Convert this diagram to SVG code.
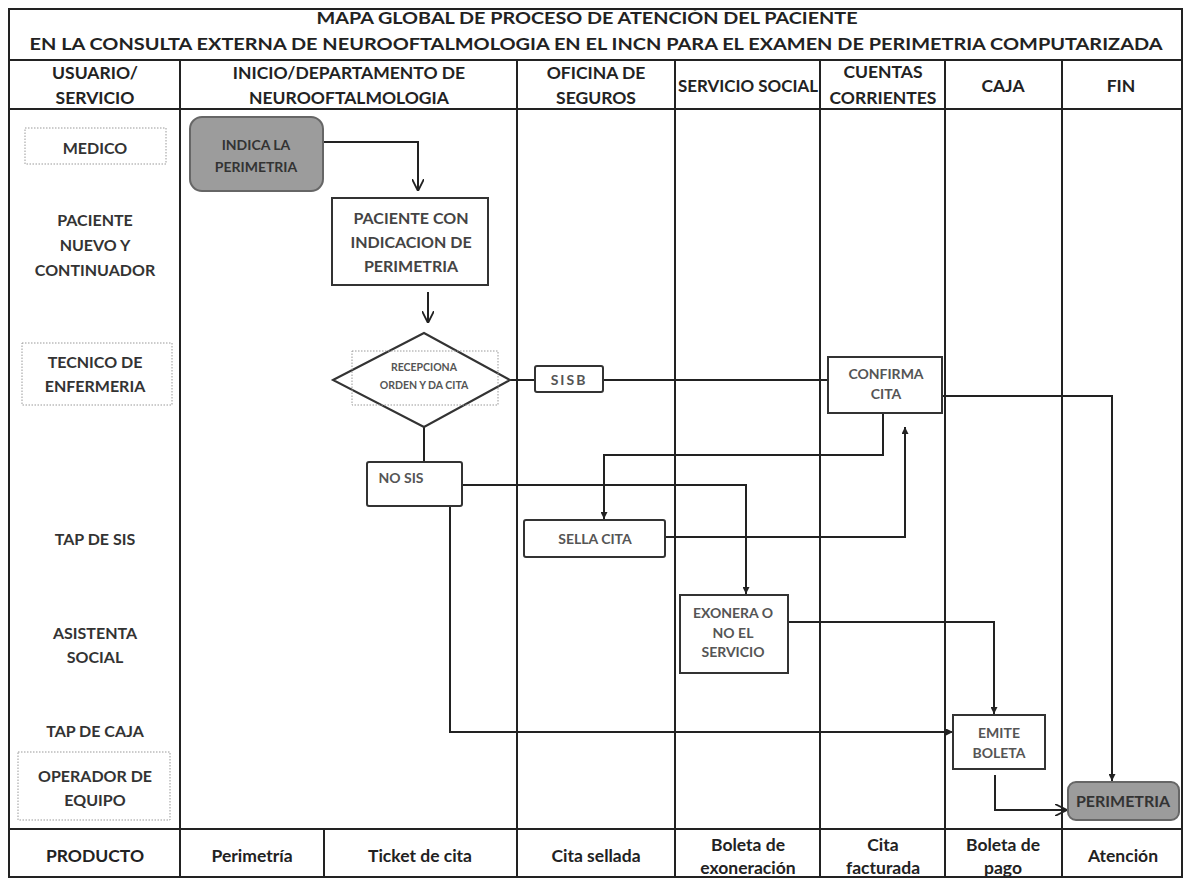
<svg xmlns="http://www.w3.org/2000/svg" width="1183" height="878" viewBox="0 0 1183 878">
<defs>
<style>
.grid{stroke:#222;stroke-width:2;fill:none}
.t{font-family:Lato,"Liberation Sans",sans-serif;font-weight:bold;text-anchor:middle}
.ti{font-size:17px;fill:#222}
.hd{font-size:17.5px;fill:#222}
.lb{font-size:16px;fill:#333}
.pr{font-size:17.5px;fill:#222}
.nt{font-size:16px;fill:#444}
.sm{font-size:14px;fill:#555}
.xs{font-size:10.5px;fill:#555}
.box{fill:#fff;stroke:#333;stroke-width:2}
.gbox{fill:#9c9c9c;stroke:#666;stroke-width:2}
.dot{fill:none;stroke:#999;stroke-width:1;stroke-dasharray:1.5 1.5}
.cn{fill:none;stroke:#222;stroke-width:2}
</style>
<marker id="fa" viewBox="0 0 10 10" refX="10" refY="5" markerWidth="7" markerHeight="7" markerUnits="userSpaceOnUse" orient="auto"><path d="M0,0 L10,5 L0,10 z" fill="#222"/></marker>
<marker id="oa" viewBox="0 0 10 10" refX="10" refY="5" markerWidth="12" markerHeight="12" markerUnits="userSpaceOnUse" orient="auto"><path d="M0,0 L10,5 L0,10" fill="none" stroke="#222" stroke-width="1.5"/></marker>
</defs>
<rect x="0" y="0" width="1183" height="878" fill="#fff"/>
<g id="grid">
<rect class="grid" x="9" y="9" width="1173" height="868"/>
<line class="grid" x1="9" y1="60" x2="1182" y2="60"/>
<line class="grid" x1="9" y1="109" x2="1182" y2="109"/>
<line class="grid" x1="9" y1="829" x2="1182" y2="829"/>
<line class="grid" x1="180" y1="60" x2="180" y2="877"/>
<line class="grid" x1="517" y1="60" x2="517" y2="877"/>
<line class="grid" x1="675" y1="60" x2="675" y2="877"/>
<line class="grid" x1="820" y1="60" x2="820" y2="877"/>
<line class="grid" x1="945" y1="60" x2="945" y2="877"/>
<line class="grid" x1="1062" y1="60" x2="1062" y2="877"/>
<line class="grid" x1="324" y1="829" x2="324" y2="877"/>
</g>
<g id="title">
<text class="t ti" x="587" y="24" textLength="541" lengthAdjust="spacingAndGlyphs">MAPA GLOBAL DE PROCESO DE ATENCIÓN DEL PACIENTE</text>
<text class="t ti" x="596" y="50" textLength="1133" lengthAdjust="spacingAndGlyphs">EN LA CONSULTA EXTERNA DE NEUROOFTALMOLOGIA EN EL INCN  PARA EL EXAMEN DE  PERIMETRIA COMPUTARIZADA</text>
</g>
<g id="headers">
<text class="t hd" x="95" y="79">USUARIO/</text><text class="t hd" x="95" y="104">SERVICIO</text>
<text class="t hd" x="349" y="79">INICIO/DEPARTAMENTO DE</text><text class="t hd" x="349" y="104">NEUROOFTALMOLOGIA</text>
<text class="t hd" x="596" y="79">OFICINA DE</text><text class="t hd" x="596" y="104">SEGUROS</text>
<text class="t hd" x="748" y="92" textLength="140" lengthAdjust="spacingAndGlyphs">SERVICIO SOCIAL</text>
<text class="t hd" x="883" y="78">CUENTAS</text><text class="t hd" x="883" y="104">CORRIENTES</text>
<text class="t hd" x="1003" y="92">CAJA</text>
<text class="t hd" x="1121" y="92">FIN</text>
</g>
<g id="lanes">
<rect class="dot" x="25" y="128" width="141" height="36"/>
<text class="t lb" x="95" y="154">MEDICO</text>
<text class="t lb" x="95" y="226">PACIENTE</text><text class="t lb" x="95" y="251">NUEVO Y</text><text class="t lb" x="95" y="276">CONTINUADOR</text>
<rect class="dot" x="22" y="343" width="150" height="62"/>
<text class="t lb" x="95" y="368">TECNICO DE</text><text class="t lb" x="95" y="392">ENFERMERIA</text>
<text class="t lb" x="95" y="545">TAP DE SIS</text>
<text class="t lb" x="95" y="639">ASISTENTA</text><text class="t lb" x="95" y="663">SOCIAL</text>
<text class="t lb" x="95" y="737">TAP DE CAJA</text>
<rect class="dot" x="18" y="752" width="152" height="68"/>
<text class="t lb" x="95" y="782">OPERADOR DE</text><text class="t lb" x="95" y="806">EQUIPO</text>
</g>
<g id="products">
<text class="t pr" x="95" y="862">PRODUCTO</text>
<text class="t pr" x="252" y="862">Perimetría</text>
<text class="t pr" x="420" y="862">Ticket de cita</text>
<text class="t pr" x="596" y="862">Cita sellada</text>
<text class="t pr" x="748" y="851">Boleta de</text><text class="t pr" x="748" y="874">exoneración</text>
<text class="t pr" x="883" y="851">Cita</text><text class="t pr" x="883" y="874">facturada</text>
<text class="t pr" x="1003" y="851">Boleta de</text><text class="t pr" x="1003" y="874">pago</text>
<text class="t pr" x="1123" y="862">Atención</text>
</g>
<g id="connectors">
<path class="cn" d="M323,142 H418 V191" marker-end="url(#oa)"/>
<path class="cn" d="M428,292 V323" marker-end="url(#oa)"/>
<path class="cn" d="M510,380 H535"/>
<path class="cn" d="M603,380 H828"/>
<path class="cn" d="M942,396 H1112 V781" marker-end="url(#fa)"/>
<path class="cn" d="M883,413 V455 H604 V519" marker-end="url(#fa)"/>
<path class="cn" d="M665,537 H905 V427" marker-end="url(#fa)"/>
<path class="cn" d="M424,427 V462"/>
<path class="cn" d="M462,485 H746 V594" marker-end="url(#fa)"/>
<path class="cn" d="M450,506 V732 H953" marker-end="url(#fa)"/>
<path class="cn" d="M788,622 H994 V714" marker-end="url(#fa)"/>
<path class="cn" d="M995,775 V810 H1067" marker-end="url(#oa)"/>
</g>
<g id="n-indica">
<rect class="gbox" x="190" y="117" width="133" height="74" rx="12"/>
<text class="t sm" x="256" y="150" style="fill:#333">INDICA LA</text>
<text class="t sm" x="256" y="172" style="fill:#333">PERIMETRIA</text>
</g>
<g id="n-paciente">
<rect class="box" x="332" y="198" width="156" height="87"/>
<text class="t nt" x="411" y="224">PACIENTE  CON</text>
<text class="t nt" x="411" y="248">INDICACION DE</text>
<text class="t nt" x="411" y="272">PERIMETRIA</text>
</g>
<g id="n-recepciona">
<polygon class="box" points="333,380 424,333 510,380 424,427"/>
<rect class="dot" x="352" y="351" width="146" height="54"/>
<text class="t xs" x="424" y="371">RECEPCIONA</text>
<text class="t xs" x="424" y="389">ORDEN Y DA CITA</text>
</g>
<g id="n-sis">
<rect class="box" x="535" y="366" width="68" height="26" rx="2"/>
<text class="t sm" x="569" y="385" style="letter-spacing:2px">SISB</text>
</g>
<g id="n-confirma">
<rect class="box" x="828" y="357" width="114" height="56"/>
<text class="t sm" x="886" y="379">CONFIRMA</text>
<text class="t sm" x="886" y="399">CITA</text>
</g>
<g id="n-nosis">
<rect class="box" x="367" y="462" width="95" height="44" rx="2"/>
<text class="t sm" x="401" y="483">NO  SIS</text>
</g>
<g id="n-sella">
<rect class="box" x="524" y="520" width="141" height="37" rx="2"/>
<text class="t sm" x="595" y="544">SELLA CITA</text>
</g>
<g id="n-exonera">
<rect class="box" x="680" y="595" width="108" height="78"/>
<text class="t sm" x="733" y="618">EXONERA O</text>
<text class="t sm" x="733" y="638">NO EL</text>
<text class="t sm" x="733" y="657">SERVICIO</text>
</g>
<g id="n-emite">
<rect class="box" x="953" y="715" width="92" height="54"/>
<text class="t sm" x="999" y="738">EMITE</text>
<text class="t sm" x="999" y="758">BOLETA</text>
</g>
<g id="n-perimetria">
<rect class="gbox" x="1068" y="782" width="111" height="38" rx="8"/>
<text class="t nt" x="1123" y="807" style="fill:#333">PERIMETRIA</text>
</g>
</svg>
